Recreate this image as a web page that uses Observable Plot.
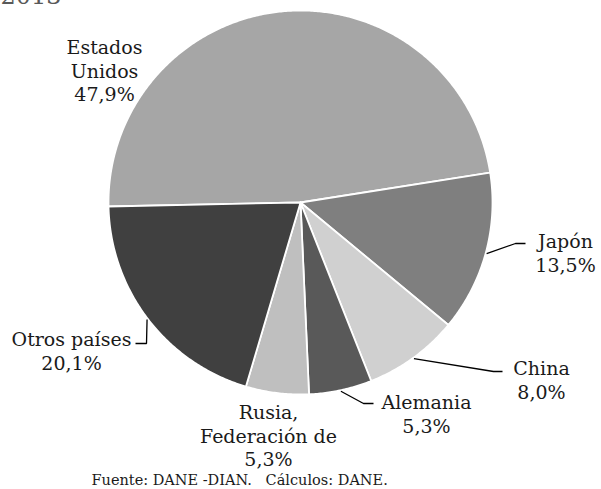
<!DOCTYPE html>
<html>
<head>
<meta charset="utf-8">
<script src="https://cdn.jsdelivr.net/npm/d3@7"></script>
<script src="https://cdn.jsdelivr.net/npm/@observablehq/plot@0.6"></script>
<style>
  html, body { margin: 0; padding: 0; background: #fff; }
  #chart { width: 601px; height: 489px; overflow: hidden; }
</style>
</head>
<body>
<div id="chart"></div>
<script>
// ---- data ----
const countries = ["Estados Unidos", "Japón", "China", "Alemania", "Rusia, Federación de", "Otros países"];
const shares = [47.9, 13.5, 8.0, 5.3, 5.3, 20.1];
const valueLabels = ["47,9%", "13,5%", "8,0%", "5,3%", "5,3%", "20,1%"];
const labelNames = ["Estados\nUnidos", "Japón", "China", "Alemania", "Rusia,\nFederación de", "Otros países"];
const sliceColors = ["#a6a6a6", "#7f7f7f", "#d0d0d0", "#595959", "#bfbfbf", "#404040"];
const titleText = "2013";
const sourceText = "Fuente: DANE -DIAN.   Cálculos: DANE.";

// ---- layout ----
const W = 601, H = 489;
const cx = 300, cy = 202, R = 192;
const startDeg = -91.2;
const FS = 19;
const LH = 1.22;
// label anchor positions (center x, first baseline y) and leader elbow points
const labelLayout = [
  {x: 104, base: 51},
  {x: 565, base: 245, elbow: [[515, 243], [525, 243]]},
  {x: 541, base: 372, elbow: [[493, 371], [502, 371]]},
  {x: 426, base: 406, elbow: [[363, 403], [373, 403]]},
  {x: 268, base: 416},
  {x: 71, base: 343, elbow: [[146, 343], [135, 343]]}
];

const data = countries.map((c, i) => ({name: c, value: shares[i], color: sliceColors[i]}));
const start = startDeg * Math.PI / 180;
const arcs = d3.pie().value(d => d.value).sort(null).startAngle(start).endAngle(start + 2 * Math.PI)(data);

const pt = (a, r) => [cx + r * Math.sin(a), cy - r * Math.cos(a)];

// slice polygons
const slicePts = [];
arcs.forEach(a => {
  const n = Math.max(4, Math.ceil((a.endAngle - a.startAngle) / (Math.PI / 360)));
  slicePts.push({name: a.data.name, color: a.data.color, x: cx, y: cy});
  for (let k = 0; k <= n; k++) {
    const ang = a.startAngle + (a.endAngle - a.startAngle) * k / n;
    const [x, y] = pt(ang, R);
    slicePts.push({name: a.data.name, color: a.data.color, x, y});
  }
  slicePts.push({name: a.data.name, color: a.data.color, x: cx, y: cy});
});

// leader lines
const leaderPts = [];
arcs.forEach((a, i) => {
  const L = labelLayout[i];
  if (!L.elbow) return;
  const mid = (a.startAngle + a.endAngle) / 2;
  const [x0, y0] = pt(mid, R + 1);
  leaderPts.push({id: i, x: x0, y: y0});
  L.elbow.forEach(([x, y]) => leaderPts.push({id: i, x, y}));
});

const labels = arcs.map((a, i) => ({
  text: labelNames[i] + "\n" + valueLabels[i],
  x: labelLayout[i].x,
  y: labelLayout[i].base - 0.71 * FS
}));

// shadow rings
const shadow = [0, 1, 2, 3, 4].map(k => ({x: cx + 1, y: cy + 2, r: R + k * 1.2}));

const footFS = 14.5;

const chart = Plot.plot({
  width: W,
  height: H,
  margin: 0,
  x: {domain: [0, W], range: [0, W], axis: null},
  y: {domain: [0, H], range: [0, H], axis: null},
  color: {type: "identity"},
  style: {fontFamily: "'DejaVu Serif', serif", background: "#fff"},
  marks: [
    Plot.dot(shadow, {x: "x", y: "y", r: d => d.r, fill: "#000", fillOpacity: 0.035, stroke: "none"}),
    Plot.line(slicePts, {x: "x", y: "y", z: "name", fill: "color", stroke: "#fff", strokeWidth: 1.8, strokeLinejoin: "round", curve: "linear"}),
    Plot.line(leaderPts, {x: "x", y: "y", z: "id", stroke: "#000", strokeWidth: 1.3, strokeLinecap: "butt", strokeLinejoin: "miter"}),
    Plot.text(labels, {x: "x", y: "y", text: "text", textAnchor: "middle", lineAnchor: "top", lineHeight: LH, fontSize: FS, fill: "#1a1a1a"}),
    Plot.text([titleText], {x: () => 0, y: () => 3, text: d => d, textAnchor: "start", lineAnchor: "bottom", fontSize: 24, fill: "#595959"}),
    Plot.text([sourceText], {x: () => 91, y: () => 484 - 0.71 * footFS, text: d => d, textAnchor: "start", lineAnchor: "top", fontSize: footFS, fill: "#1a1a1a"})
  ]
});
document.getElementById("chart").appendChild(chart);
</script>
</body>
</html>
